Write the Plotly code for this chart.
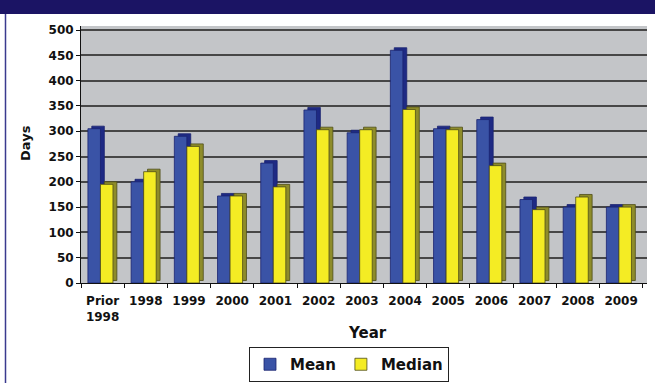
import plotly.graph_objects as go

years = ["Prior<br>1998", "1998", "1999", "2000", "2001", "2002", "2003",
         "2004", "2005", "2006", "2007", "2008", "2009"]
mean_days = [305, 200, 290, 172, 237, 342, 297, 460, 305, 323, 165, 150, 150]
median_days = [195, 220, 270, 172, 190, 303, 303, 343, 303, 232, 145, 170, 150]
y_ticks = [0, 50, 100, 150, 200, 250, 300, 350, 400, 450, 500]

W, H = 655, 383
ML, MR, MT, MB = 81, 8, 26, 100
pw = W - ML - MR
ph = H - MT - MB

DX = 0.09    # 3D depth in category units
DY = 5       # 3D depth in data units
BW = 0.29

blue, blue_side, blue_edge = "#3A53A6", "#1E2A84", "#1A2370"
yel, yel_side, yel_edge = "#F4EC24", "#8E8C2A", "#4E4C18"

fig = go.Figure()

def add_series(vals, name, off, front, side, edge):
    fig.add_trace(go.Bar(
        x=years, y=vals, base=[DY] * len(vals), offset=off + DX, width=BW,
        marker=dict(color=side, line=dict(color=edge, width=0.8)),
        showlegend=False, hoverinfo="skip"))
    fig.add_trace(go.Bar(
        x=years, y=vals, offset=off, width=BW, name=name,
        marker=dict(color=front, line=dict(color=edge, width=0.8))))

add_series(mean_days, "Mean", -0.34, blue, blue_side, blue_edge)
add_series(median_days, "Median", -0.05, yel, yel_side, yel_edge)

font_family = "DejaVu Sans"

fig.update_layout(
    width=W, height=H,
    margin=dict(l=ML, r=MR, t=MT, b=MB, autoexpand=False),
    barmode="overlay",
    paper_bgcolor="white",
    plot_bgcolor="#C3C5C8",
    font=dict(family=font_family, color="#111111"),
    showlegend=True,
    legend=dict(
        orientation="h", x=(349 - ML) / pw, xanchor="center",
        y=(MT + ph - 347) / ph, yanchor="top",
        bgcolor="white", bordercolor="#222222", borderwidth=1,
        font=dict(family=font_family, size=15, weight="bold", color="#111111"),
        itemwidth=30, traceorder="normal", tracegroupgap=0,
    ),
    xaxis=dict(
        type="category", range=[-0.5, 12.6], automargin=False,
        showline=True, linecolor="#111111", linewidth=1,
        ticks="outside", tickson="boundaries", ticklen=4, tickcolor="#111111",
        ticklabelstandoff=7,
        showgrid=False,
        tickfont=dict(family=font_family, size=12, weight="bold", color="#111111"),
        fixedrange=True,
    ),
    yaxis=dict(
        range=[0, 508], tickvals=y_ticks, automargin=False,
        showline=True, linecolor="#111111", linewidth=1,
        ticks="outside", ticklen=4, tickcolor="#111111",
        showgrid=True, gridcolor="#474747", gridwidth=1.6,
        zeroline=False,
        tickfont=dict(family=font_family, size=12, weight="bold", color="#111111"),
        fixedrange=True,
    ),
)

fig.add_annotation(text="<b>Year</b>", xref="paper", yref="paper",
                   x=(367 - ML) / pw, y=(MT + ph - 333) / ph,
                   xanchor="center", yanchor="middle", showarrow=False,
                   font=dict(family=font_family, size=15, color="#111111"))
fig.add_annotation(text="<b>Days</b>", xref="paper", yref="paper",
                   x=(25 - ML) / pw, y=(MT + ph - 143) / ph, textangle=-90,
                   xanchor="center", yanchor="middle", showarrow=False,
                   font=dict(family=font_family, size=13, color="#111111"))

# navy top band and left border
fig.add_shape(type="rect", xref="paper", yref="paper",
              x0=-ML / pw - 0.01, x1=(W - ML) / pw + 0.01,
              y0=(MT + ph - 14) / ph, y1=(MT + ph + 2) / ph,
              fillcolor="#1B1464", line=dict(width=0), layer="above")
fig.add_shape(type="line", xref="paper", yref="paper",
              x0=(5.5 - ML) / pw, x1=(5.5 - ML) / pw,
              y0=(MT + ph - 14) / ph, y1=(MT + ph - H - 2) / ph,
              line=dict(color="#3A3A8E", width=1.5), layer="above")

fig.write_html("out.html")
